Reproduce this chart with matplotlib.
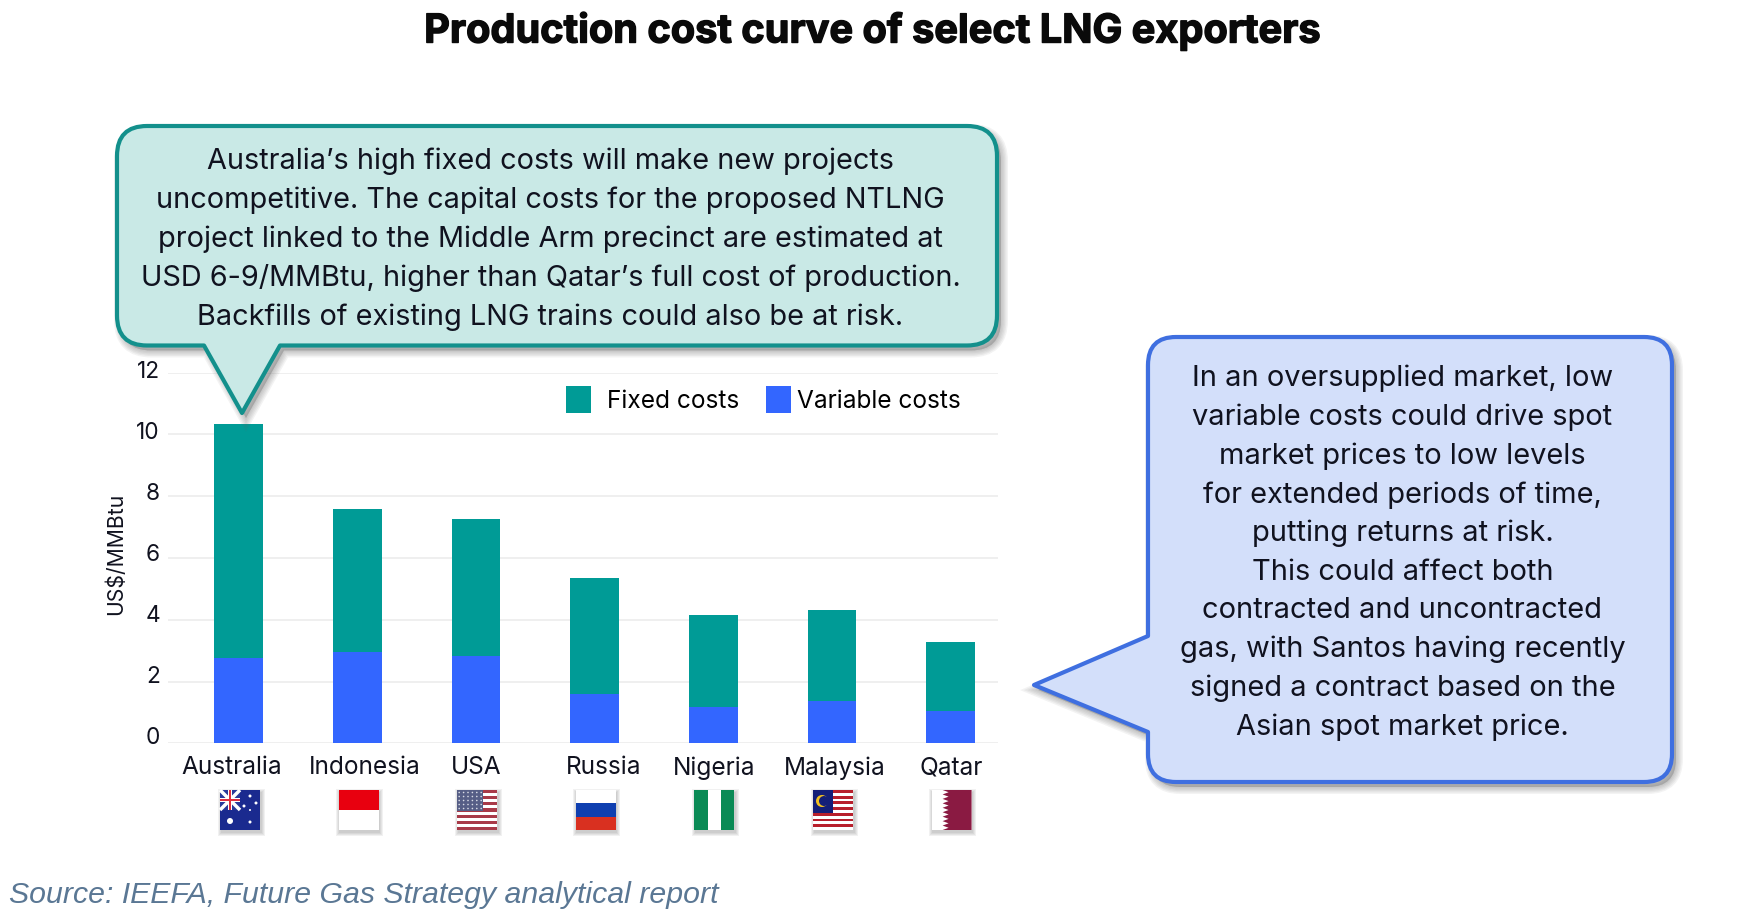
import numpy as np
import matplotlib
matplotlib.use("Agg")
import matplotlib.pyplot as plt
import matplotlib.patheffects as pe
from matplotlib.path import Path
from matplotlib.patches import PathPatch, Rectangle, Polygon, Circle
from matplotlib.transforms import Affine2D, ScaledTranslation

plt.rcParams['font.family'] = ['Inter', 'DejaVu Sans']

countries = ["Australia", "Indonesia", "USA", "Russia", "Nigeria", "Malaysia", "Qatar"]
variable_costs = [2.77, 2.95, 2.83, 1.59, 1.18, 1.37, 1.05]
total_costs = [10.33, 7.59, 7.25, 5.34, 4.14, 4.32, 3.29]
fixed_costs = [t - v for t, v in zip(total_costs, variable_costs)]
y_ticks = [0, 2, 4, 6, 8, 10, 12]
title = "Production cost curve of select LNG exporters"
source = "Source: IEEFA, Future Gas Strategy analytical report"
teal_note = ["Australia\u2019s high fixed costs will make new projects",
             "uncompetitive. The capital costs for the proposed NTLNG",
             "project linked to the Middle Arm precinct are estimated at",
             "USD 6-9/MMBtu, higher than Qatar\u2019s full cost of production.",
             "Backfills of existing LNG trains could also be at risk."]
blue_note = ["In an oversupplied market, low", "variable costs could drive spot",
             "market prices to low levels", "for extended periods of time,",
             "putting returns at risk.", "This could affect both",
             "contracted and uncontracted", "gas, with Santos having recently",
             "signed a contract based on the", "Asian spot market price."]

W, H = 1739, 924
TEAL, BLUE = "#009b96", "#3366ff"
INK = "#10121f"
fig = plt.figure(figsize=(W / 100, H / 100), dpi=100, facecolor="white")

# ---- chart
L, R, Y0, Y12 = 168, 998, 743.3, 372.7
ax = fig.add_axes([L / W, 1 - Y0 / H, (R - L) / W, (Y0 - Y12) / H])
step, first = 118.7, 238.5
ax.set_xlim((L - first) / step, (R - first) / step)
ax.set_ylim(0, 12)
x = np.arange(len(countries))
bars_v = ax.bar(x, variable_costs, width=0.41, color=BLUE, zorder=3)
bars_f = ax.bar(x, fixed_costs, width=0.41, bottom=variable_costs, color=TEAL, zorder=3)
label_shift = np.array([-7, 7.5, 0, 9.3, 1, 3, 0]) / step
ax.set_xticks(x + label_shift, countries)
ax.set_yticks(y_ticks)
ax.tick_params(axis="x", length=0, pad=9.5, labelsize=17.6, labelcolor=INK)
ax.tick_params(axis="y", length=0, pad=5.8, labelsize=16.3, labelcolor=INK)
for lab, v in zip(ax.get_yticklabels(), y_ticks):
    lift = 8 - v * 0.36          # tick labels sit a little above their gridlines, more so at the bottom
    lab.set_transform(lab.get_transform() + ScaledTranslation(0, lift / 100, fig.dpi_scale_trans))
ax.grid(axis="y", color="#ececec", lw=1.2, zorder=0)
ax.set_axisbelow(True)
for s in ax.spines.values():
    s.set_visible(False)
ax.set_ylabel("US$/MMBtu", fontsize=15.2, color=INK)
ax.yaxis.set_label_coords((126 - L) / (R - L), (Y0 - 554) / (Y0 - Y12))


def add_legend(handle, text, px, pad):
    lg = ax.legend([handle], [text], frameon=False, fontsize=17.6, handlelength=1.03,
                   handleheight=1.35, handletextpad=pad, borderpad=0, borderaxespad=0,
                   loc="upper left", bbox_to_anchor=((px - L) / (R - L), (Y0 - 386) / (Y0 - Y12)))
    ax.add_artist(lg)
    ax.legend_ = None


add_legend(bars_f, "Fixed costs", 566, 0.63)
add_legend(bars_v, "Variable costs", 766, 0.25)

# ---- overlay in image pixels
ov = fig.add_axes([0, 0, 1, 1], zorder=5)
ov.set_xlim(0, W); ov.set_ylim(H, 0); ov.axis("off"); ov.patch.set_alpha(0)


def callout(pts, radii):
    """Closed outline; radii[i] rounds the corner at pts[i]."""
    verts, codes = [], []
    n = len(pts)
    for i in range(n):
        p = np.array(pts[i], float); r = radii[i]
        a = np.array(pts[i - 1], float); b = np.array(pts[(i + 1) % n], float)
        if r:
            s = p + (a - p) / np.linalg.norm(a - p) * r
            e = p + (b - p) / np.linalg.norm(b - p) * r
            verts += [s, p, e]
            codes += [Path.LINETO, Path.CURVE3, Path.CURVE3]
        else:
            verts.append(p); codes.append(Path.LINETO)
    codes[0] = Path.MOVETO
    verts.append(verts[0]); codes.append(Path.CLOSEPOLY)
    return Path(verts, codes)


def soft_shadow(path, dx=4, dy=5, z=1):
    sp = path.transformed(Affine2D().translate(dx, dy))
    for lw in (10, 8, 6, 4, 2):
        ov.add_patch(PathPatch(sp, transform=ov.transData, fc="#666666", ec="#666666",
                               alpha=0.08, lw=lw, zorder=z))


p1 = callout([(117, 126), (997, 126), (997, 345.5), (280, 345.5), (242, 413), (204, 345.5), (117, 345.5)],
             [30, 30, 30, 0, 0, 0, 30])
soft_shadow(p1)
ov.add_patch(PathPatch(p1, fc="#c9e9e6", ec="#13908c", lw=3, zorder=2, joinstyle="round"))
for i, t in enumerate(teal_note):
    ov.text(550.5, 161.5 + i * 39, t, ha="center", va="center", fontsize=20.8, color=INK, zorder=3)

p2 = callout([(1148, 337), (1672, 337), (1672, 782), (1148, 782), (1148, 732), (1034, 685), (1148, 636)],
             [28, 28, 28, 28, 0, 0, 0])
soft_shadow(p2)
ov.add_patch(PathPatch(p2, fc="#d3dffa", ec="#3f6fe0", lw=3, zorder=2, joinstyle="round"))
for i, t in enumerate(blue_note):
    ov.text(1402.5, 378.7 + i * 38.7, t, ha="center", va="center", fontsize=20.9, color=INK, zorder=3)

# ---- flags
FW, FH, FTOP = 40, 40, 790


def rect(x0, y0, w, h, c, z=4):
    ov.add_patch(Rectangle((x0, y0), w, h, fc=c, ec="none", zorder=z))


def stripes(x0, n, c1, c2):
    for k in range(n):
        rect(x0, FTOP + k * FH / n, FW, FH / n + 0.2, c1 if k % 2 == 0 else c2)


def flag_aus(x0):
    rect(x0, FTOP, FW, FH, "#1a2a8f")
    rect(x0, FTOP, 20, 20, "#2a3a9a")
    ov.plot([x0, x0 + 20], [FTOP, FTOP + 20], color="white", lw=2.5, zorder=5, solid_capstyle="butt")
    ov.plot([x0, x0 + 20], [FTOP + 20, FTOP], color="white", lw=2.5, zorder=5, solid_capstyle="butt")
    rect(x0, FTOP + 8, 20, 4, "white", 5); rect(x0 + 8, FTOP, 4, 20, "white", 5)
    rect(x0, FTOP + 9, 20, 2, "#e03040", 6); rect(x0 + 9, FTOP, 2, 20, "#e03040", 6)
    for sx, sy, r in [(10, 31, 3), (30, 6, 1.5), (36, 13, 1.5), (30, 32, 1.5), (24, 16, 1.5), (30, 20, 1)]:
        ov.add_patch(Circle((x0 + sx, FTOP + sy), r, fc="white", ec="none", zorder=6))


def flag_idn(x0):
    rect(x0, FTOP, FW, FH / 2, "#e8000f"); rect(x0, FTOP + FH / 2, FW, FH / 2, "#ffffff")


def flag_usa(x0):
    stripes(x0, 13, "#a83a48", "#ffffff")
    rect(x0, FTOP, 26, 21, "#565e86", 5)
    for a in range(6):
        for b in range(5):
            ov.add_patch(Circle((x0 + 2 + a * 4.4, FTOP + 2.5 + b * 4), 0.8, fc="#d8dbe6", ec="none", zorder=6))


def flag_rus(x0):
    rect(x0, FTOP, FW, FH / 3, "#ffffff")
    rect(x0, FTOP + FH / 3, FW, FH / 3, "#0f3fb0")
    rect(x0, FTOP + 2 * FH / 3, FW, FH / 3, "#d93020")


def flag_nga(x0):
    rect(x0, FTOP, FW / 3, FH, "#0a8a55")
    rect(x0 + FW / 3, FTOP, FW / 3, FH, "#ffffff")
    rect(x0 + 2 * FW / 3, FTOP, FW / 3, FH, "#0a8a55")


def flag_mys(x0):
    stripes(x0, 14, "#b8202c", "#ffffff")
    rect(x0, FTOP, 20, 23, "#141f78", 5)
    ov.add_patch(Circle((x0 + 9, FTOP + 11), 6, fc="#f2c020", ec="none", zorder=6))
    ov.add_patch(Circle((x0 + 11, FTOP + 11), 5, fc="#141f78", ec="none", zorder=6))


def flag_qat(x0):
    rect(x0, FTOP, FW, FH, "#ffffff")
    n = 9
    pts = [(x0 + FW, FTOP), (x0 + FW, FTOP + FH)]
    for k in range(n, 0, -1):
        pts += [(x0 + 11, FTOP + k * FH / n), (x0 + 17, FTOP + (k - 0.5) * FH / n)]
    pts.append((x0 + 11, FTOP))
    ov.add_patch(Polygon(pts, closed=True, fc="#8a1a42", ec="none", zorder=5))


for i, f in enumerate([flag_aus, flag_idn, flag_usa, flag_rus, flag_nga, flag_mys, flag_qat]):
    fx = 220 + 118.6 * i
    for g in (7, 5, 3, 1):
        ov.add_patch(Rectangle((fx + 1 - g / 2, FTOP + 2 - g / 2), FW + g, FH + g, fc="#666666",
                               ec="none", alpha=0.09, zorder=3))
    f(fx)

# ---- titles
t_ = fig.text(873 / W, 1 - 31 / H, title, ha="center", va="center",
              fontsize=28.6, fontweight="bold", color="#0a0a0a", zorder=10)
t_.set_path_effects([pe.withStroke(linewidth=1.0, foreground="#0a0a0a")])
fig.text(9 / W, 1 - 895 / H, source, ha="left", va="center", fontsize=21.75,
         family=["Liberation Sans"], style="italic", color="#5a7794", zorder=10)

fig.savefig("out.png", dpi=100, facecolor="white")
